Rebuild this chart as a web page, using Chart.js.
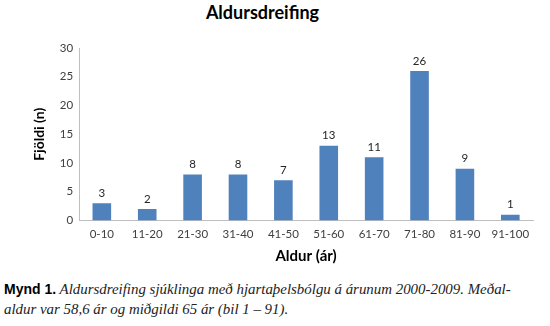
<!DOCTYPE html>
<html>
<head>
<meta charset="utf-8">
<script src="https://cdn.jsdelivr.net/npm/chart.js@4"></script>
<style>
  body { margin: 0; background: #fff; }
  #wrap { position: relative; width: 550px; height: 326px; }
  #title { position: absolute; left: 0; width: 525px; top: 1px; text-align: center;
           font: bold 18px Lato, sans-serif; color: #000; }
  #box { position: absolute; left: 0; top: 0; width: 550px; height: 264px; }
  #caption { position: absolute; left: 4px; top: 280px; width: 546px;
             font: italic 14.9px "Liberation Serif", serif; line-height: 19.5px; color: #222; }
  #caption b { font: bold 14px "Liberation Sans", sans-serif; font-style: normal; color: #000; }
</style>
</head>
<body>
<div id="wrap">
  <div id="title">Aldursdreifing</div>
  <div id="box"><canvas id="ageChart"></canvas></div>
  <div id="caption"><b>Mynd 1.</b> Aldursdreifing sjúklinga með hjartaþelsbólgu á árunum 2000-2009. Meðal-<br>aldur var 58,6 ár og miðgildi 65 ár (bil 1 – 91).</div>
</div>
<script>
const ageGroups = ["0-10", "11-20", "21-30", "31-40", "41-50", "51-60", "61-70", "71-80", "81-90", "91-100"];
const patientCounts = [3, 2, 8, 8, 7, 13, 11, 26, 9, 1];
const yTicks = [0, 5, 10, 15, 20, 25, 30];

// writes the value above each bar
const valueLabels = {
  id: "valueLabels",
  afterDatasetsDraw(chart) {
    const ctx = chart.ctx;
    const meta = chart.getDatasetMeta(0);
    ctx.save();
    ctx.font = "11.5px Lato, sans-serif";
    ctx.fillStyle = "#262626";
    ctx.textAlign = "center";
    ctx.textBaseline = "middle";
    meta.data.forEach((bar, i) => {
      ctx.fillText(String(patientCounts[i]), bar.x, bar.y - 10);
    });
    ctx.restore();
  }
};

new Chart(document.getElementById("ageChart"), {
  type: "bar",
  data: {
    labels: ageGroups,
    datasets: [{
      data: patientCounts,
      backgroundColor: "#4f81bd",
      barPercentage: 0.41,
      categoryPercentage: 1
    }]
  },
  options: {
    responsive: true,
    maintainAspectRatio: false,
    animation: false,
    layout: { padding: { top: 48, right: 17, left: 31, bottom: 0 } },
    plugins: { legend: { display: false }, tooltip: { enabled: false } },
    scales: {
      x: {
        grid: { display: false, drawTicks: false },
        border: { color: "#bfbfbf" },
        ticks: { color: "#404040", font: { family: "Lato", size: 11.5, lineHeight: 1 }, padding: 8.5, maxRotation: 0 },
        title: { display: true, text: "Aldur (ár)", color: "#000", font: { family: "Lato", size: 15, weight: "bold", lineHeight: 1 }, padding: { top: 0, bottom: 0 } }
      },
      y: {
        min: 0,
        max: 30,
        afterBuildTicks: axis => { axis.ticks = yTicks.map(v => ({ value: v })); },
        grid: { display: false, drawTicks: false },
        border: { color: "#bfbfbf" },
        ticks: { color: "#404040", font: { family: "Lato", size: 11.5 }, padding: 6 },
        title: { display: true, text: "Fjöldi (n)", color: "#000", font: { family: "Lato", size: 14, weight: "bold" }, padding: { top: 0, bottom: 6 } }
      }
    }
  },
  plugins: [valueLabels]
});
</script>
</body>
</html>
